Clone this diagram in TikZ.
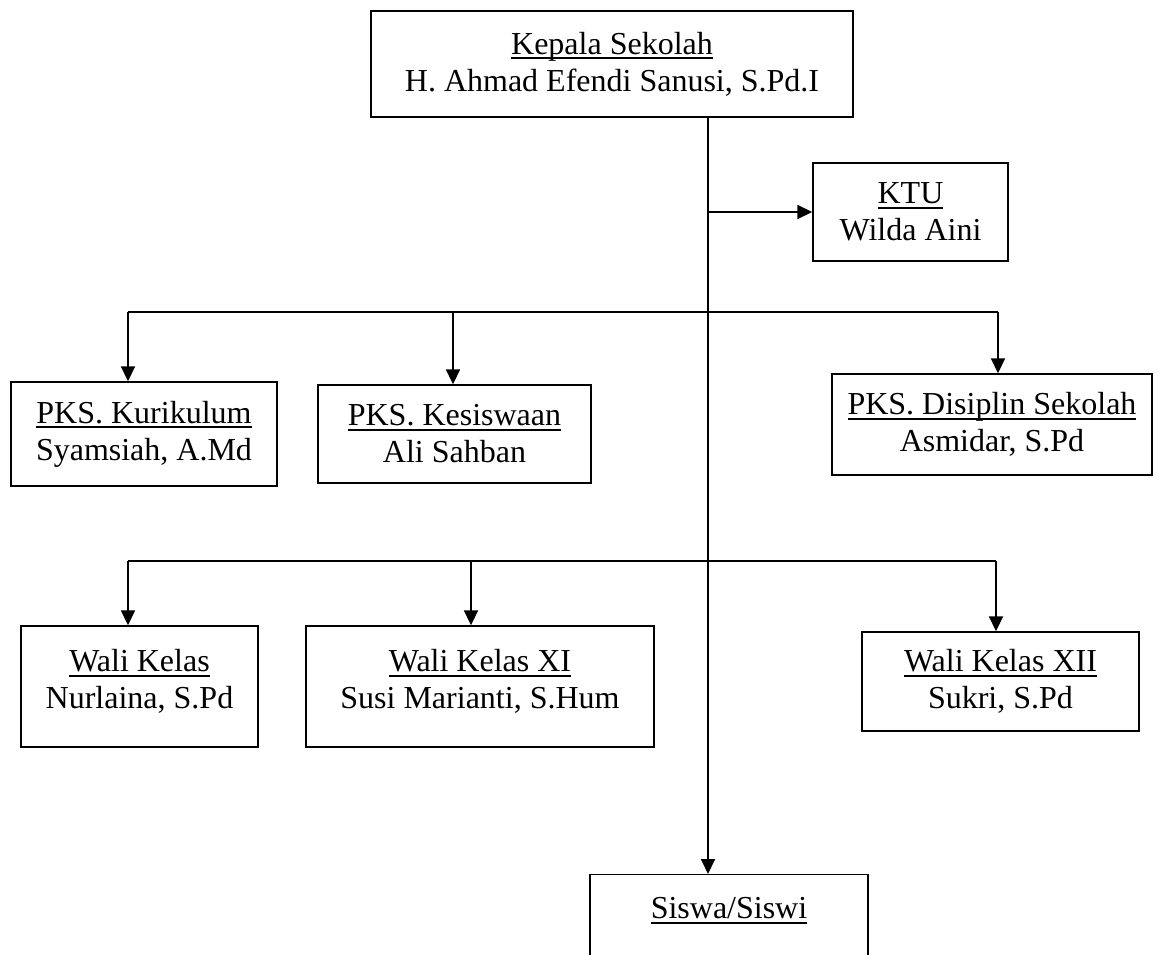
\documentclass[tikz,border=0pt]{standalone}
\usepackage{fontspec}
\setmainfont{Liberation Serif}
\usetikzlibrary{arrows.meta}
\newcommand{\garis}[1]{\setbox0\hbox{#1}\rlap{\rule[-5pt]{\wd0}{2pt}}\box0}

\begin{document}
\begin{tikzpicture}[x=1pt,y=-1pt]
    \tikzstyle{kotak}=[draw, rectangle, line width=1.4pt, align=center, inner sep=0pt, font=\fontsize{32}{37}\selectfont]
    \tikzstyle{panah}=[line width=1.8pt, -{Triangle[length=15pt,width=14pt]}]
    \tikzstyle{garis}=[line width=1.8pt]
    \useasboundingbox (0,0) rectangle (1160,954);
    \clip (0,0) rectangle (1160,954);
    % kotak-kotak jabatan
    \node[kotak, minimum width=482, minimum height=106] (kepsek) at (612,64) {\garis{Kepala Sekolah}\\ H. Ahmad Efendi Sanusi, S.Pd.I};
    \node[kotak, minimum width=195, minimum height=98] (ktu) at (910.5,212) {\garis{KTU}\\ Wilda Aini};
    \node[kotak, minimum width=266, minimum height=104] (kurikulum) at (144,434) {\garis{PKS. Kurikulum}\\ Syamsiah, A.Md};
    \node[kotak, minimum width=273, minimum height=98] (kesiswaan) at (454.5,434) {\garis{PKS. Kesiswaan}\\ Ali Sahban};
    \node[kotak, minimum width=320, minimum height=101] (disiplin) at (992,424.5) {\garis{PKS. Disiplin Sekolah}\\ Asmidar, S.Pd};
    \node[kotak, minimum width=237, minimum height=121] (walix) at (139.5,686.5) {\garis{Wali Kelas}\\ Nurlaina, S.Pd\\[-22pt]\mbox{}};
    \node[kotak, minimum width=348, minimum height=121] (walixi) at (480,686.5) {\garis{Wali Kelas XI}\\ Susi Marianti, S.Hum\\[-22pt]\mbox{}};
    \node[kotak, minimum width=277, minimum height=99] (walixii) at (1000.5,681.5) {\garis{Wali Kelas XII}\\ Sukri, S.Pd};
    \node[kotak, minimum width=278, minimum height=104, anchor=north] (siswa) at (729,874) {\garis{Siswa/Siswi}\\ \mbox{}};
    % garis komando
    \coordinate (poros) at (708,117);
    \draw[panah] (kepsek.south -| poros) -- (siswa.north -| poros);
    \draw[panah] (poros |- ktu.west) -- (ktu.west);
    \coordinate (cab1a) at (128,312);
    \coordinate (cab1b) at (453,312);
    \coordinate (cab1c) at (998,312);
    \draw[garis] (cab1a) -- (cab1c);
    \draw[panah] (cab1a) -- (cab1a |- kurikulum.north);
    \draw[panah] (cab1b) -- (cab1b |- kesiswaan.north);
    \draw[panah] (cab1c) -- (cab1c |- disiplin.north);
    \coordinate (cab2a) at (128,561);
    \coordinate (cab2b) at (471,561);
    \coordinate (cab2c) at (996,561);
    \draw[garis] (cab2a) -- (cab2c);
    \draw[panah] (cab2a) -- (cab2a |- walix.north);
    \draw[panah] (cab2b) -- (cab2b |- walixi.north);
    \draw[panah] (cab2c) -- (cab2c |- walixii.north);
\end{tikzpicture}
\end{document}
